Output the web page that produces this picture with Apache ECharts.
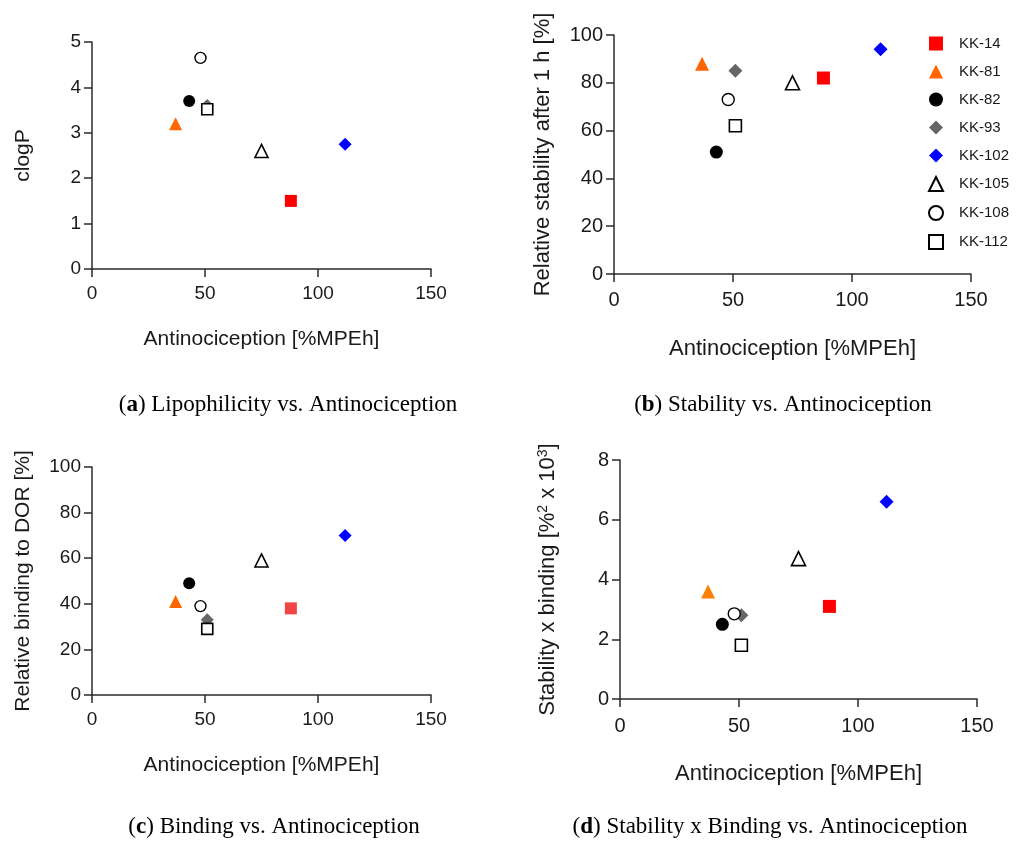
<!DOCTYPE html>
<html><head><meta charset="utf-8">
<script src="https://cdn.jsdelivr.net/npm/echarts@6/dist/echarts.min.js"></script>
<style>html,body{margin:0;padding:0;background:#fff}#c{width:1019px;height:841px}</style>
</head><body><div id="c"></div>
<script>
const compounds = ['KK-14','KK-81','KK-82','KK-93','KK-102','KK-105','KK-108','KK-112'];
const antinociception = [88, 37, 43, 51, 112, 75, 48, 51];
const clogP = [1.5, 3.2, 3.7, 3.6, 2.75, 2.6, 4.65, 3.52];
const stability = [82, 88, 51, 85, 94, 80, 73, 62];
const binding = [38, 41, 49, 33, 70, 59, 39, 29];
const stabilityXbinding = [3.1, 3.6, 2.5, 2.8, 6.6, 4.7, 2.85, 1.8];

const FONT = 'Liberation Sans, Arial, sans-serif';
const styles = [
  {symbol:'rect', size:12, color:'#ff0000', border:'#ff0000'},
  {symbol:'triangle', size:13, color:'#ff6600', border:'#ff6600'},
  {symbol:'circle', size:12, color:'#000000', border:'#000000'},
  {symbol:'diamond', size:13, color:'#666666', border:'#666666'},
  {symbol:'diamond', size:13, color:'#0000ff', border:'#0000ff'},
  {symbol:'triangle', size:13, color:'#ffffff', border:'#000000', bw:1.6},
  {symbol:'circle', size:11, color:'#ffffff', border:'#000000', bw:1.4},
  {symbol:'rect', size:11, color:'#ffffff', border:'#000000', bw:1.6}
];

const panels = [
  {grid:{left:92, top:42, width:339, height:227}, y:clogP, max:5, interval:1, yname:'clogP', ygap:58, xgap:60, nfs:21, tfs:19, xm:15, scale:1, colors:{}},
  {grid:{left:614, top:35, width:357, height:239}, y:stability, max:100, interval:20, yname:'Relative stability after 1 h [%]', ygap:60, xgap:64, nfs:22, tfs:20, xm:16, scale:1.08, colors:{}},
  {grid:{left:92, top:467, width:339, height:228}, y:binding, max:100, interval:20, yname:'Relative binding to DOR [%]', ygap:58, xgap:60, nfs:21, tfs:19, xm:15, scale:1, colors:{0:'#f24444'}},
  {grid:{left:620, top:460, width:357, height:239}, y:stabilityXbinding, max:8, interval:2, yname:'{a|Stability x binding [%}{s|2}{a| x 10}{s|3}{a|]}', ygap:60, xgap:64, nfs:22, tfs:20, xm:17, scale:1.08, colors:{1:'#ff7f00'}}
];

const grids = [], xAxes = [], yAxes = [], series = [];
panels.forEach((p, i) => {
  grids.push(p.grid);
  const line = {show:true, lineStyle:{color:'#2b2b2b', width:1.5}};
  const tick = {show:true, inside:false, length:8, lineStyle:{color:'#2b2b2b', width:1.5}};
  xAxes.push({
    gridIndex:i, type:'value', min:0, max:150, interval:50,
    axisLine:line, axisTick:tick, splitLine:{show:false},
    axisLabel:{color:'#1a1a1a', fontSize:p.tfs, fontFamily:FONT, margin:p.xm},
    name:'Antinociception [%MPEh]', nameLocation:'middle', nameGap:p.xgap,
    nameTextStyle:{color:'#1a1a1a', fontSize:p.nfs, fontFamily:FONT}
  });
  yAxes.push({
    gridIndex:i, type:'value', min:0, max:p.max, interval:p.interval,
    axisLine:line, axisTick:tick, splitLine:{show:false},
    axisLabel:{color:'#1a1a1a', fontSize:p.tfs, fontFamily:FONT, margin:11},
    name:p.yname, nameLocation:'middle', nameGap:p.ygap, nameRotate:90,
    nameTextStyle:{color:'#1a1a1a', fontSize:p.nfs, fontFamily:FONT,
      rich:{a:{fontSize:p.nfs, color:'#1a1a1a', fontFamily:FONT},
            s:{fontSize:14, color:'#1a1a1a', verticalAlign:'top', padding:[0,0,10,0], fontFamily:FONT}}}
  });
  compounds.forEach((c, k) => {
    const s = styles[k];
    const col = p.colors[k] || s.color;
    const bcol = p.colors[k] || s.border;
    series.push({
      type:'scatter', name:c, xAxisIndex:i, yAxisIndex:i,
      symbol:s.symbol, symbolSize:Math.round(s.size * p.scale),
      itemStyle:{color:col, borderColor:bcol, borderWidth:s.bw || 0, opacity:1},
      emphasis:{disabled:true},
      data:[[antinociception[k], p.y[k]]]
    });
  });
});

const capFont = 'Liberation Serif, Times New Roman, serif';
const capRich = {p:{fontSize:23,fontFamily:capFont,color:'#111'}, b:{fontSize:23,fontFamily:capFont,fontWeight:'bold',color:'#111'}};
function caption(letter, text, x, y){
  return {type:'text', x:x, y:y, style:{text:'{p|(}{b|'+letter+'}{p|) '+text+'}', rich:capRich, align:'center', verticalAlign:'middle'}};
}

const chart = echarts.init(document.getElementById('c'), null, {renderer:'canvas'});
chart.setOption({
  animation:false,
  backgroundColor:'#fff',
  grid:grids, xAxis:xAxes, yAxis:yAxes, series:series,
  legend:{
    data:compounds, orient:'vertical', left:923, top:31,
    itemWidth:14, itemHeight:14, itemGap:13,
    textStyle:{fontSize:15, color:'#1a1a1a', fontFamily:FONT, padding:[0,0,0,11]},
    selectedMode:false
  },
  graphic:[
    caption('a', 'Lipophilicity vs. Antinociception', 288, 405),
    caption('b', 'Stability vs. Antinociception', 783, 405),
    caption('c', 'Binding vs. Antinociception', 274, 827),
    caption('d', 'Stability x Binding vs. Antinociception', 770, 827)
  ]
});
</script></body></html>
